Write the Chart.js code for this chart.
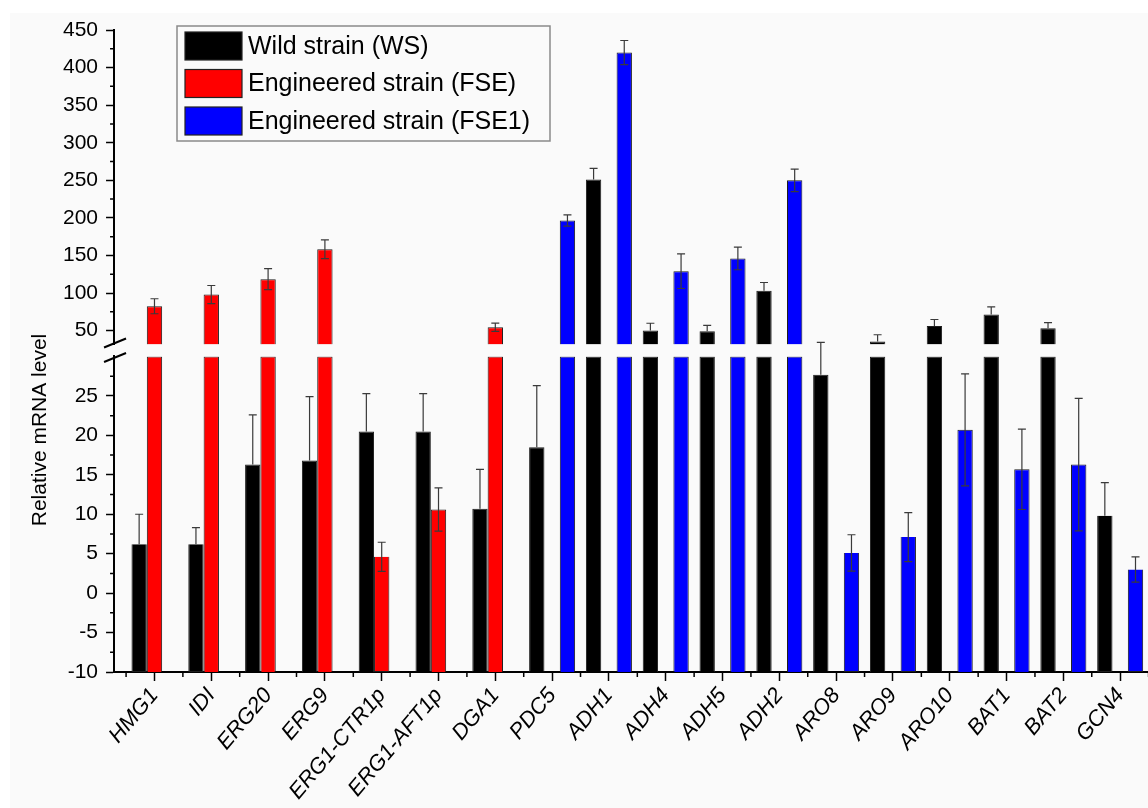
<!DOCTYPE html>
<html>
<head>
<meta charset="utf-8">
<script src="https://cdn.jsdelivr.net/npm/chart.js@4.4.1/dist/chart.umd.min.js"></script>
<style>
  html, body { margin: 0; padding: 0; background: #fff; }
  #wrap { width: 1148px; height: 808px; }
</style>
</head>
<body>
<div id="wrap"><canvas id="chart"></canvas></div>
<script>
// genes on the x axis
const categories = ["HMG1", "IDI", "ERG20", "ERG9", "ERG1-CTR1p", "ERG1-AFT1p", "DGA1", "PDC5", "ADH1",
  "ADH4", "ADH5", "ADH2", "ARO8", "ARO9", "ARO10", "BAT1", "BAT2", "GCN4"];

const seriesNames = ["Wild strain (WS)", "Engineered strain (FSE)", "Engineered strain (FSE1)"];
const seriesColors = ["#000000", "#ff0000", "#0000ff"];

// relative mRNA level, null = strain not shown for that gene
const wsValues = [6.2, 6.2, 16.3, 16.8, 20.5, 20.5, 10.7, 18.5, 251, 50, 49, 103, 27.7, 35.5, 56, 71.5, 53, 9.8];
const wsErrors = [3.8, 2.1, 6.3, 8.1, 4.8, 4.8, 5.0, 7.8, 15, 9.8, 8, 11, 4.1, 9, 8.8, 10, 7.6, 4.2];
const fseValues = [82.4, 98, 118.4, 158.2, 4.6, 10.6, 54.5, null, null, null, null, null, null, null, null, null, null, null];
const fseErrors = [10, 12, 14, 12.5, 1.85, 2.75, 5.5, null, null, null, null, null, null, null, null, null, null, null];
const fse1Values = [null, null, null, null, null, null, null, 196.4, 420, 129, 146, 250, 5.1, 7.1, 20.7, 15.7, 16.3, 3.0];
const fse1Errors = [null, null, null, null, null, null, null, 7.5, 16, 23, 15, 15, 2.3, 3.1, 7.1, 5.1, 8.4, 1.6];

// broken y axis: lower part and upper part
const lowRange = [-10, 30];
const highRange = [31.5, 450];
const lowTicks = [-10, -5, 0, 5, 10, 15, 20, 25];
const lowMinorTicks = [-7.5, -2.5, 2.5, 7.5, 12.5, 17.5, 22.5, 27.5];
const highTicks = [50, 100, 150, 200, 250, 300, 350, 400, 450];
const highMinorTicks = [75, 125, 175, 225, 275, 325, 375, 425];

const seriesValues = [wsValues, fseValues, fse1Values];
const seriesErrors = [wsErrors, fseErrors, fse1Errors];
const stackKeys = ["ws", "fse", "fse1"];

const FONT = "'Liberation Sans', Arial, sans-serif";
Chart.defaults.font.family = FONT;
Chart.defaults.color = "#000";

// each series is drawn twice: once in the lower part, once in the upper part
const datasets = [];
seriesValues.forEach((vals, s) => {
  datasets.push({
    label: seriesNames[s],
    stack: stackKeys[s],
    yAxisID: "yLow",
    backgroundColor: seriesColors[s],
    borderColor: "#1e1e1e",
    borderWidth: 1,
    data: vals.map((v, i) => ({ x: i, y: v == null ? null : [lowRange[0], Math.min(v, lowRange[1])] }))
  });
  datasets.push({
    label: seriesNames[s],
    stack: stackKeys[s],
    yAxisID: "yTop",
    backgroundColor: seriesColors[s],
    borderColor: "#1e1e1e",
    borderWidth: 1,
    data: vals.map((v, i) => ({ x: i, y: v == null || v <= highRange[0] ? null : [highRange[0], v] }))
  });
});

const errorBars = {
  id: "errorBars",
  afterDatasetsDraw(chart) {
    const ctx = chart.ctx;
    ctx.save();
    ctx.strokeStyle = "#3a3a3a";
    ctx.lineWidth = 1.2;
    seriesValues.forEach((vals, s) => {
      const meta = chart.getDatasetMeta(s * 2);
      vals.forEach((v, i) => {
        if (v == null) return;
        const e = seriesErrors[s][i];
        const scale = v > highRange[0] ? chart.scales.yTop : chart.scales.yLow;
        const x = meta.data[i].x;
        const yv = scale.getPixelForValue(v);
        const y1 = scale.getPixelForValue(v + e);
        const y0 = scale.getPixelForValue(Math.max(v - e, scale.min));
        ctx.beginPath();
        ctx.moveTo(x, y1); ctx.lineTo(x, yv);
        ctx.moveTo(x - 4, y1); ctx.lineTo(x + 4, y1);
        // lower half is hidden inside the black bars
        if (s > 0) {
          ctx.moveTo(x, yv); ctx.lineTo(x, y0);
          ctx.moveTo(x - 4, y0); ctx.lineTo(x + 4, y0);
        }
        ctx.stroke();
      });
    });
    ctx.restore();
  }
};

const decorations = {
  id: "decorations",
  beforeDraw(chart) {
    const ctx = chart.ctx;
    ctx.save();
    ctx.fillStyle = "#ffffff";
    ctx.fillRect(0, 0, chart.width, chart.height);
    ctx.fillStyle = "#fafafa";
    ctx.fillRect(10, 13, chart.width - 10, chart.height - 13);
    ctx.restore();
  },
  afterDraw(chart) {
    const ctx = chart.ctx;
    const x = chart.scales.x, yLow = chart.scales.yLow, yTop = chart.scales.yTop;
    const left = chart.chartArea.left, bottom = chart.chartArea.bottom;
    ctx.save();
    ctx.strokeStyle = "#000";
    ctx.lineWidth = 1.5;
    ctx.beginPath();
    // minor ticks
    lowMinorTicks.forEach(v => { const p = yLow.getPixelForValue(v); ctx.moveTo(left - 4, p); ctx.lineTo(left, p); });
    highMinorTicks.forEach(v => { const p = yTop.getPixelForValue(v); ctx.moveTo(left - 4, p); ctx.lineTo(left, p); });
    for (let i = -1; i < categories.length; i++) {
      const p = x.getPixelForValue(i + 0.5);
      if (p > left + 1) { ctx.moveTo(p, bottom); ctx.lineTo(p, bottom + 5); }
    }
    ctx.stroke();

    // break marks on the y axis
    ctx.lineWidth = 2;
    ctx.beginPath();
    [yTop.bottom - 1.5, yLow.top + 1].forEach(yc => {
      ctx.moveTo(left - 10, yc + 4.5);
      ctx.lineTo(left + 12, yc - 4.5);
    });
    ctx.stroke();

    // y axis title
    ctx.save();
    ctx.translate(46, 430);
    ctx.rotate(-Math.PI / 2);
    ctx.font = "21px " + FONT;
    ctx.fillStyle = "#000";
    ctx.textAlign = "center";
    ctx.textBaseline = "alphabetic";
    ctx.fillText("Relative mRNA level", 0, 0);
    ctx.restore();

    // legend
    ctx.strokeStyle = "#8a8a8a";
    ctx.lineWidth = 1.5;
    ctx.strokeRect(177, 26, 373, 115);
    ctx.font = "25px " + FONT;
    ctx.textBaseline = "middle";
    ctx.textAlign = "left";
    seriesNames.forEach((name, s) => {
      const top = 32 + s * 37.5;
      ctx.fillStyle = seriesColors[s];
      ctx.fillRect(185, top, 57, 28);
      ctx.strokeStyle = "#222";
      ctx.lineWidth = 1.2;
      ctx.strokeRect(185, top, 57, 28);
      ctx.fillStyle = "#000";
      ctx.fillText(name, 248, top + 15);
    });
    ctx.restore();
  }
};

const yCommon = {
  type: "linear",
  position: "left",
  stack: "y",
  stacked: false,
  bounds: "data",
  grid: { drawOnChartArea: false, tickLength: 8, tickWidth: 1.5, tickColor: "#000" },
  border: { color: "#000", width: 2 },
  ticks: { font: { size: 21 }, color: "#000", padding: 8, autoSkip: false }
};

new Chart(document.getElementById("chart"), {
  type: "bar",
  data: { datasets: datasets },
  plugins: [errorBars, decorations],
  options: {
    responsive: true,
    maintainAspectRatio: false,
    animation: false,
    categoryPercentage: 0.81,
    barPercentage: 1.0,
    layout: { padding: { left: 55, top: 30, right: 0, bottom: 0 } },
    plugins: { legend: { display: false }, tooltip: { enabled: false } },
    scales: {
      x: {
        type: "linear",
        bounds: "data",
        offset: false,
        min: -0.712,
        max: 17.49,
        afterBuildTicks: (axis) => { axis.ticks = categories.map((c, i) => ({ value: i })); },
        // long labels run off the bottom edge, as in the original figure
        afterFit: (axis) => { axis.height = 136; },
        grid: { offset: false, drawOnChartArea: false, tickLength: 9, tickWidth: 1.5, tickColor: "#000" },
        border: { color: "#000", width: 2 },
        ticks: {
          autoSkip: false,
          maxRotation: 50,
          minRotation: 50,
          padding: 2,
          color: "#000",
          font: { size: 22, style: "italic" },
          callback: (v) => categories[v]
        }
      },
      yTop: Object.assign({}, yCommon, {
        weight: 3,
        stackWeight: 314.7,
        min: highRange[0],
        max: highRange[1],
        afterBuildTicks: (axis) => { axis.ticks = highTicks.map(v => ({ value: v })); }
      }),
      yGap: {
        type: "linear",
        position: "left",
        stack: "y",
        weight: 2,
        stackWeight: 12,
        ticks: { display: false },
        grid: { display: false, drawTicks: false },
        border: { display: false }
      },
      yLow: Object.assign({}, yCommon, {
        weight: 1,
        stackWeight: 315.7,
        min: lowRange[0],
        max: lowRange[1],
        afterBuildTicks: (axis) => { axis.ticks = lowTicks.map(v => ({ value: v })); }
      })
    }
  }
});
</script>
</body>
</html>
